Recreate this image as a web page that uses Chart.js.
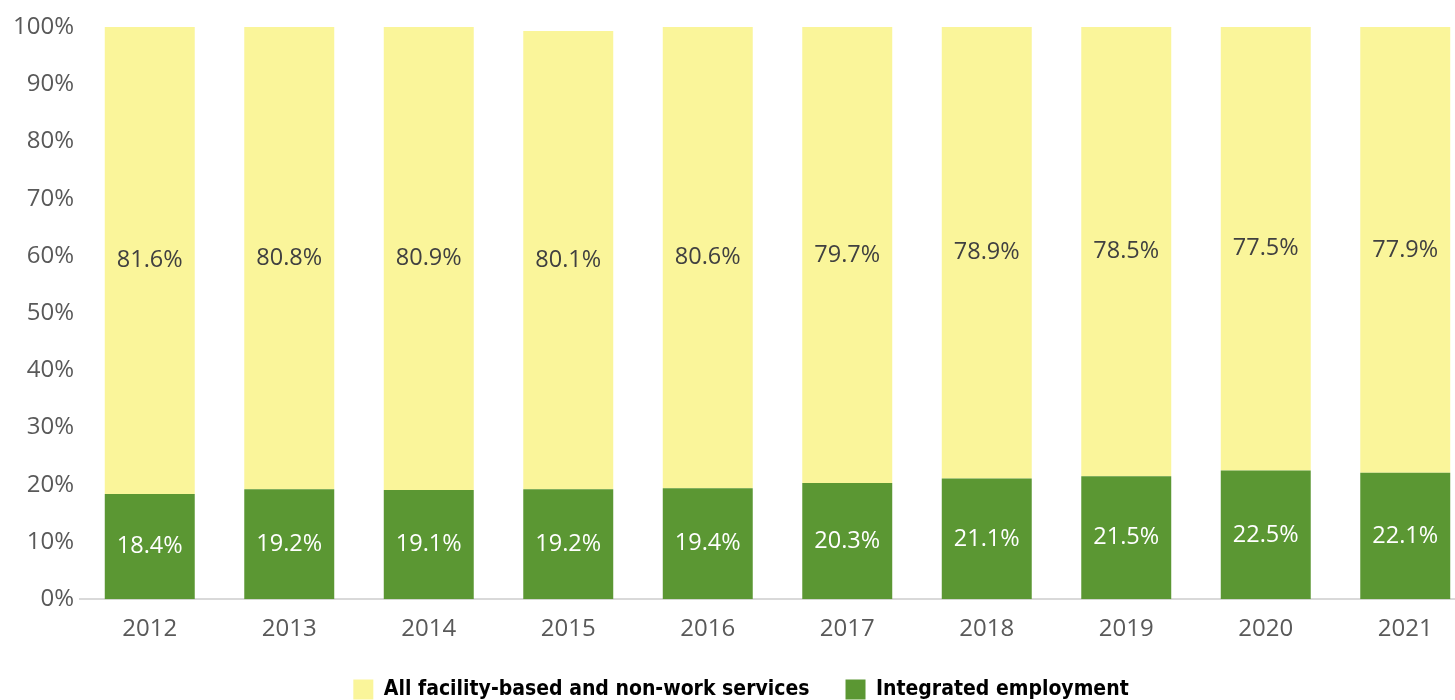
<!DOCTYPE html>
<html>
<head>
<meta charset="utf-8">
<script src="https://cdn.jsdelivr.net/npm/chart.js@4.4.0/dist/chart.umd.min.js"></script>
<style>
  html, body { margin: 0; padding: 0; background: #fff; overflow: hidden; }
  #wrap { width: 1475px; height: 710px; }
</style>
</head>
<body>
<div id="wrap"><canvas id="chart" width="1475" height="710"></canvas></div>
<script>
const years = ['2012', '2013', '2014', '2015', '2016', '2017', '2018', '2019', '2020', '2021'];
const integrated = [18.4, 19.2, 19.1, 19.2, 19.4, 20.3, 21.1, 21.5, 22.5, 22.1];
const facility = [81.6, 80.8, 80.9, 80.1, 80.6, 79.7, 78.9, 78.5, 77.5, 77.9];

const GREEN = '#5B9733';
const YELLOW = '#FAF59A';
const FONT = "'Open Sans', 'Noto Sans', sans-serif";
const LEGEND_FONT = "'DejaVu Sans Condensed', 'DejaVu Sans', sans-serif";

// draws the value in the middle of each bar segment
const segmentLabels = {
    id: 'segmentLabels',
    afterDatasetsDraw: (chart) => {
        const ctx = chart.ctx;
        ctx.save();
        ctx.font = '23.5px ' + FONT;
        ctx.textAlign = 'center';
        ctx.textBaseline = 'middle';
        chart.data.datasets.forEach((ds, i) => {
            const meta = chart.getDatasetMeta(i);
            meta.data.forEach((bar, j) => {
                const mid = (bar.y + bar.base) / 2;
                ctx.fillStyle = ds.labelColor;
                ctx.fillText(ds.data[j].toFixed(1) + '%', bar.x, mid);
            });
        });
        ctx.restore();
    }
};

window.onload = function () {
    const ctx = document.getElementById('chart').getContext('2d');
    new Chart(ctx, {
        type: 'bar',
        data: {
            labels: years,
            datasets: [
                {
                    label: 'Integrated employment',
                    data: integrated,
                    backgroundColor: GREEN,
                    labelColor: '#ffffff',
                    order: 1
                },
                {
                    label: 'All facility-based and non-work services',
                    data: facility,
                    backgroundColor: YELLOW,
                    labelColor: '#404040',
                    order: 2
                }
            ]
        },
        options: {
            responsive: false,
            animation: false,
            barPercentage: 0.645,
            categoryPercentage: 1,
            layout: { padding: { left: 7, top: 27, right: 0, bottom: 0 } },
            scales: {
                x: {
                    stacked: true,
                    grid: { display: false, drawTicks: false },
                    border: { display: true, color: '#d9d9d9', width: 2 },
                    ticks: { color: '#595959', font: { family: FONT, size: 24 }, padding: 16 },
                    // let the labels run into the legend's top gap
                    afterFit: (scale) => { scale.height -= 17; }
                },
                y: {
                    stacked: true,
                    min: 0,
                    max: 100,
                    grid: { display: false, drawTicks: false },
                    border: { display: false },
                    ticks: {
                        stepSize: 10,
                        color: '#595959',
                        padding: 6,
                        font: { family: FONT, size: 24 },
                        callback: v => v + '%'
                    }
                }
            },
            plugins: {
                tooltip: { enabled: false },
                legend: {
                    position: 'bottom',
                    reverse: true,
                    labels: {
                        boxWidth: 20,
                        boxHeight: 20,
                        padding: 36,
                        color: '#000000',
                        font: { family: LEGEND_FONT, size: 21, weight: 'bold' }
                    }
                }
            }
        },
        plugins: [segmentLabels]
    });
};
</script>
</body>
</html>
